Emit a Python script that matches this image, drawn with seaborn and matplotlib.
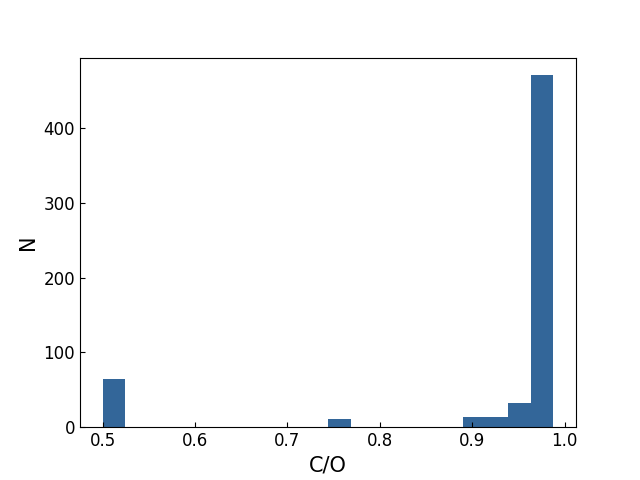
import numpy as np
import pandas as pd
import matplotlib
matplotlib.use("Agg")
import matplotlib.pyplot as plt
import seaborn as sns

# histogram: 20 equal bins between 0.5 and ~0.988
co_min = 0.5
co_max = 0.988
n_bins = 20
bin_index = [0, 10, 16, 17, 18, 19]
counts = [64, 11, 13, 13, 33, 471]

edges = np.linspace(co_min, co_max, n_bins + 1)
width = edges[1] - edges[0]
df = pd.DataFrame({
    "co": [edges[i] + width / 2 for i in bin_index],
    "n": counts,
})

fig, ax = plt.subplots(figsize=(6.4, 4.8), dpi=100)
sns.histplot(data=df, x="co", weights="n", bins=n_bins,
             binrange=(co_min, co_max), ax=ax,
             color="#336699", alpha=1, linewidth=0)
ax.set_xlim(co_min - 0.05 * (co_max - co_min), co_max + 0.05 * (co_max - co_min))
ax.set_xlabel("C/O", fontsize=15)
ax.set_ylabel("N", fontsize=15)
ax.tick_params(direction="in", labelsize=12)
fig.savefig("out.png", dpi=100)
